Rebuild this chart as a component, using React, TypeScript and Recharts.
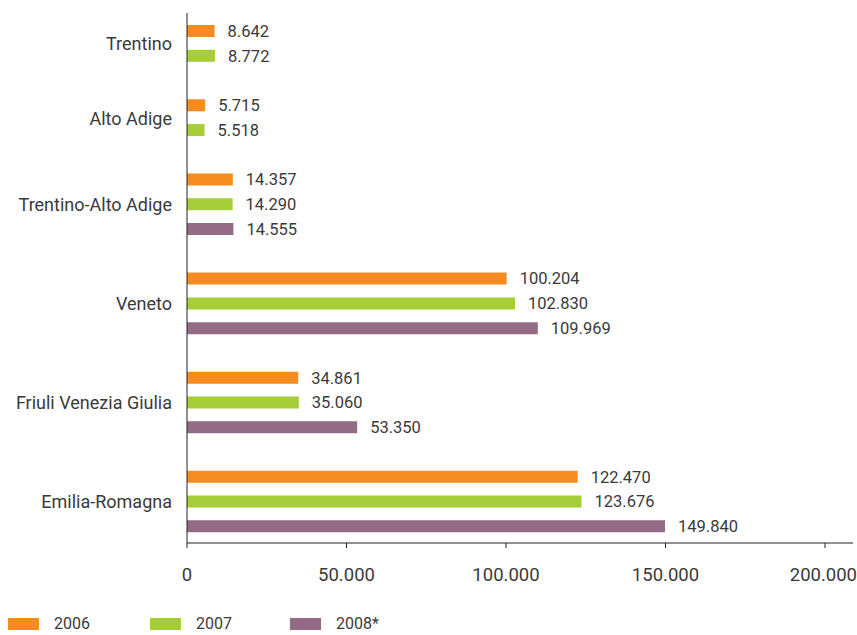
import { BarChart, Bar, XAxis, YAxis, Cell, LabelList } from 'recharts'

const regions = ['Trentino', 'Alto Adige', 'Trentino-Alto Adige', 'Veneto', 'Friuli Venezia Giulia', 'Emilia-Romagna']
const years = ['2006', '2007', '2008*']
const values2006 = [8642, 5715, 14357, 100204, 34861, 122470]
const values2007 = [8772, 5518, 14290, 102830, 35060, 123676]
const values2008: Array<number | null> = [null, null, 14555, 109969, 53350, 149840]
const xTicks = [0, 50000, 100000, 150000, 200000]

const yearColors = ['#F68B1F', '#A6CE39', '#946B85']
const textColor = '#3a3a3a'
const font = 'Roboto, "Noto Sans", sans-serif'

// the chart uses the whole window, like the reference
if (typeof document !== 'undefined') document.body.style.margin = '0'

const CHART_W = 857
const CHART_H = 588
const MARGIN = { top: 13, right: 4, bottom: 5, left: 8 }
const X_AXIS_H = 40
const PAD_TOP = 6
const PAD_BOTTOM = 4

const fmt = (v: number) => String(v).replace(/\B(?=(\d{3})+(?!\d))/g, '.')

// one row per bar, with an empty row between regions
type Row = { key: string; yearIndex: number; value: number | null }
const rows: Row[] = []
const labelRows = new Map<string, { text: string; between: boolean }>()

regions.forEach((region, i) => {
  const series = [values2006[i], values2007[i], values2008[i]]
  const present = series.map((v, j) => ({ v, j })).filter(d => d.v != null)
  const start = rows.length
  present.forEach(d => rows.push({ key: `${i}-${d.j}`, yearIndex: d.j, value: d.v }))
  const n = present.length
  const labelIdx = n % 2 === 1 ? start + (n - 1) / 2 : start + n / 2 - 1
  labelRows.set(rows[labelIdx].key, { text: region, between: n % 2 === 0 })
  if (i < regions.length - 1) rows.push({ key: `gap-${i}`, yearIndex: -1, value: null })
})

const plotH = CHART_H - MARGIN.top - MARGIN.bottom - X_AXIS_H
const band = (plotH - PAD_TOP - PAD_BOTTOM) / rows.length

function RegionTick(props: any) {
  const { x, y, payload } = props
  const info = labelRows.get(payload.value)
  if (!info) return <g />
  return (
    <text
      x={x}
      y={y + (info.between ? band / 2 : 0)}
      textAnchor="end"
      dominantBaseline="central"
      fill={textColor}
      fontSize={18}
      fontFamily={font}
    >
      {info.text}
    </text>
  )
}

export default function App() {
  return (
    <div style={{ position: 'relative', width: CHART_W, height: 635, fontFamily: font }}>
      <BarChart width={CHART_W} height={CHART_H} data={rows} layout="vertical" margin={MARGIN}>
        <XAxis
          type="number"
          domain={[0, 200000]}
          ticks={xTicks}
          tickFormatter={fmt}
          height={X_AXIS_H}
          padding={{ left: 0, right: 28 }}
          axisLine={{ stroke: '#222' }}
          tickLine={{ stroke: '#222' }}
          tickSize={5}
          tickMargin={20}
          tick={{ fill: textColor, fontSize: 18.5, fontFamily: font }}
          allowDataOverflow
        />
        <YAxis
          type="category"
          dataKey="key"
          width={179}
          interval={0}
          padding={{ top: PAD_TOP, bottom: PAD_BOTTOM }}
          axisLine={{ stroke: '#222' }}
          tickLine={false}
          tickSize={0}
          tickMargin={15}
          tick={<RegionTick />}
        />
        <Bar dataKey="value" barSize={12} isAnimationActive={false}>
          {rows.map(r => (
            <Cell key={r.key} fill={r.yearIndex >= 0 ? yearColors[r.yearIndex] : 'none'} />
          ))}
          <LabelList
            dataKey="value"
            position="right"
            offset={13}
            formatter={(v: any) => (v == null ? '' : fmt(Number(v)))}
            style={{ fill: textColor, fontSize: 16.5, fontFamily: font }}
          />
        </Bar>
      </BarChart>
      <div style={{ position: 'absolute', left: 8, top: 618, display: 'flex', alignItems: 'center' }}>
        {years.map((y, j) => (
          <div key={y} style={{ display: 'flex', alignItems: 'center', width: j === 0 ? 142 : 140 }}>
            <span style={{ display: 'inline-block', width: 31, height: 12, background: yearColors[j], marginRight: 15 }} />
            <span style={{ fontSize: 16, color: textColor, lineHeight: '12px' }}>{y}</span>
          </div>
        ))}
      </div>
    </div>
  )
}
